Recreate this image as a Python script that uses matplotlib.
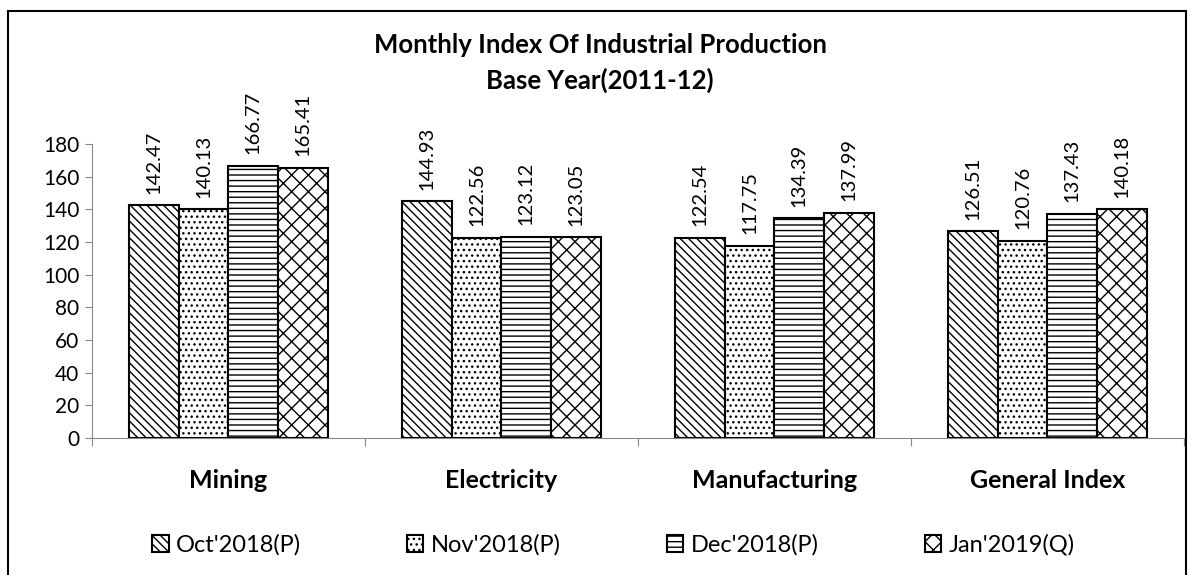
import numpy as np
import matplotlib.pyplot as plt
from matplotlib.patches import Rectangle

categories = ["Mining", "Electricity", "Manufacturing", "General Index"]
months = ["Oct'2018(P)", "Nov'2018(P)", "Dec'2018(P)", "Jan'2019(Q)"]
oct18 = [142.47, 144.93, 122.54, 126.51]
nov18 = [140.13, 122.56, 117.75, 120.76]
dec18 = [166.77, 123.12, 134.39, 137.43]
jan19 = [165.41, 123.05, 137.99, 140.18]
series = [oct18, nov18, dec18, jan19]
hatches = ["\\\\\\\\", "...", "---", "xx"]

plt.rcParams['font.family'] = ['Lato', 'DejaVu Sans']
plt.rcParams['hatch.linewidth'] = 1.0

fig = plt.figure(figsize=(11.93, 5.75), dpi=100)
ax = fig.add_axes([0.0771, 0.2383, 0.9153, 0.5113])

x = np.arange(len(categories))
w = 0.1815
for i, (vals, h) in enumerate(zip(series, hatches)):
    pos = x + (i - 1.5) * w
    ax.bar(pos, vals, w, color='white', edgecolor='black', linewidth=1.5,
           hatch=h, label=months[i])
    for p, v in zip(pos, vals):
        ax.text(p, v + 7, f"{v:.2f}", rotation=90, ha='center', va='bottom',
                fontsize=14.5)

ax.set_xlim(-0.5, 3.5)
ax.set_ylim(0, 180)
ax.set_yticks(range(0, 181, 20))
ax.tick_params(axis='y', labelsize=15, length=5, color='#888888', pad=4)
ax.set_xticks(np.arange(-0.5, 4, 1))
ax.set_xticklabels([])
ax.tick_params(axis='x', length=6, color='#888888')
for c, lab in zip(x, categories):
    ax.text(c, -0.145, lab, transform=ax.get_xaxis_transform(), ha='center',
            va='center', fontsize=18, fontweight='bold')
for s in ['top', 'right']:
    ax.spines[s].set_visible(False)
for s in ['left', 'bottom']:
    ax.spines[s].set_color('#888888')

fig.text(0.503, 0.922, "Monthly Index Of Industrial Production", ha='center',
         va='center', fontsize=18.5, fontweight='bold')
fig.text(0.503, 0.861, "Base Year(2011-12)", ha='center', va='center',
         fontsize=18.5, fontweight='bold')

fig.legend(loc='center', bbox_to_anchor=(0.514, 0.052), ncol=4, frameon=False,
           fontsize=17, handlelength=0.7, handleheight=0.7, handletextpad=0.3,
           columnspacing=4.5)

fig.patches.append(Rectangle((8 / 1193, -0.05), 1178 / 1193, 0.05 + 564 / 575,
                             transform=fig.transFigure, fill=False,
                             edgecolor='black', linewidth=1.5))

plt.savefig("out.png", dpi=100)
